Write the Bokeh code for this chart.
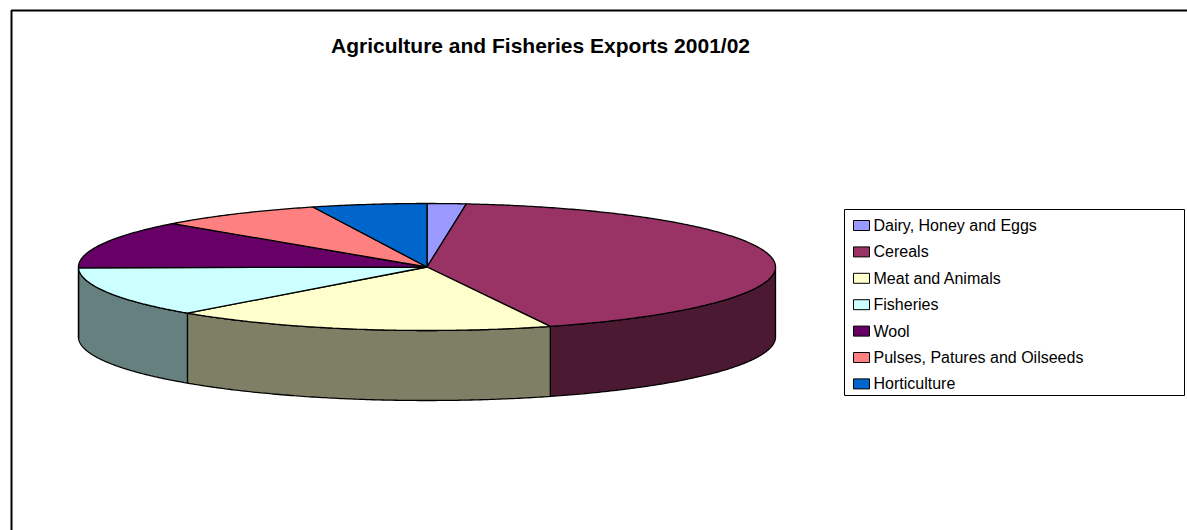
import numpy as np
from bokeh.plotting import figure
from bokeh.models import Range1d
from bokeh.core.properties import value
from bokeh.embed import file_html
from bokeh.resources import INLINE

# ---- data (share of exports in %) ----
categories = ["Dairy, Honey and Eggs", "Cereals", "Meat and Animals", "Fisheries",
              "Wool", "Pulses, Patures and Oilseeds", "Horticulture"]
shares = [1.8, 42.4, 17.8, 12.7, 12.2, 7.7, 5.3]
top_colors = ["#9999FF", "#993366", "#FFFFCC", "#CCFFFF", "#660066", "#FF8080", "#0066CC"]
side_colors = ["#4C4C7F", "#4C1933", "#7F7F66", "#667F7F", "#330033", "#7F4040", "#003366"]
title = "Agriculture and Fisheries Exports 2001/02"

W, H = 1187, 530
p = figure(width=W, height=H, x_range=Range1d(0, W), y_range=Range1d(H, 0),
           output_backend="svg", toolbar_location=None, min_border=0,
           x_axis_type=None, y_axis_type=None)
p.grid.visible = False
p.outline_line_color = None
p.background_fill_color = "white"
p.border_fill_color = "white"

# outer chart border (left and top visible)
p.line([11, 11, W + 5], [H + 5, 10, 10], line_color="black", line_width=2)

# title
p.text([540], [45], text=[title], text_font=value("Liberation Sans"),
       text_font_size="21px", text_font_style="bold", text_align="center",
       text_baseline="middle", text_color="black")

# 3D pie geometry
cx, cy, rx, ry, depth = 426.5, 266.5, 348.5, 63.5, 70.0

def pt(t_deg, dy=0.0):
    t = np.radians(t_deg)
    return cx + rx * np.sin(t), cy - ry * np.cos(t) + dy

total = float(sum(shares))
bounds = [0.0]
for s in shares:
    bounds.append(bounds[-1] + s / total * 360.0)

# sides (front visible part between 90 and 270 degrees)
for i in range(len(shares)):
    a, b = max(bounds[i], 90.0), min(bounds[i + 1], 270.0)
    if b <= a:
        continue
    ts = np.linspace(a, b, 120)
    xt, yt = pt(ts)
    xb, yb = pt(ts[::-1], depth)
    xs = np.concatenate([xt, xb])
    ys = np.concatenate([yt, yb])
    p.patch(xs, ys, fill_color=side_colors[i], line_color="black", line_width=1.3)

# top slices
for i in range(len(shares)):
    a, b = bounds[i], bounds[i + 1]
    ts = np.linspace(a, b, max(4, int((b - a) * 2)))
    xa, ya = pt(ts)
    xs = np.concatenate([[cx], xa])
    ys = np.concatenate([[cy], ya])
    p.patch(xs, ys, fill_color=top_colors[i], line_color="black", line_width=1.3)

# legend
lx0, ly0, lx1, ly1 = 844, 209, 1184, 395
p.quad(left=[lx0], right=[lx1], top=[ly0], bottom=[ly1], fill_color="white",
       line_color="black", line_width=1)
row_y = [225 + 26.4 * k for k in range(len(categories))]
p.rect(x=[861] * len(categories), y=row_y, width=16, height=10,
       fill_color=top_colors, line_color="black", line_width=1)
p.text(x=[873] * len(categories), y=row_y, text=categories,
       text_font=value("Liberation Sans"), text_font_size="16px",
       text_baseline="middle", text_align="left", text_color="black")

open("out.html", "w").write(file_html(p, INLINE))
